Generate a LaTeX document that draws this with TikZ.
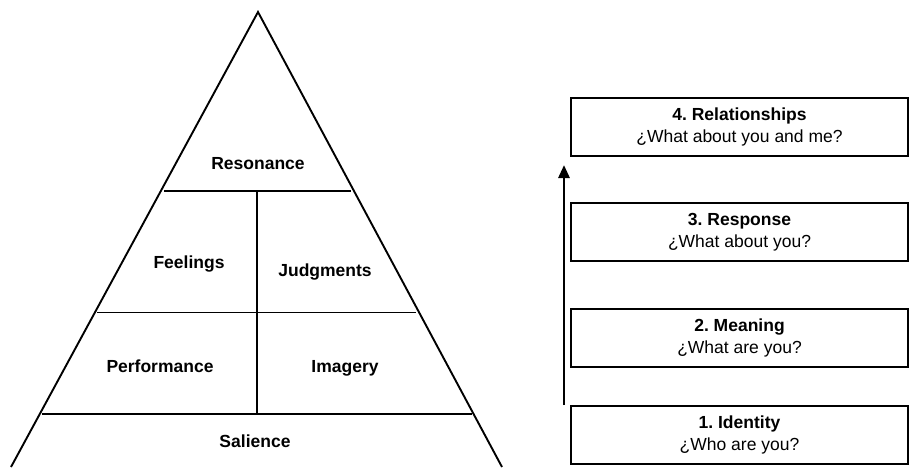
\documentclass[tikz,border=0pt]{standalone}
\usepackage{fontspec}
\setmainfont{Liberation Sans}
\usetikzlibrary{arrows.meta}
\frenchspacing
\begin{document}
\begin{tikzpicture}[x=1pt,y=-1pt,
  pline/.style={line width=1.9pt},
  plabel/.style={font=\fontsize{17.5}{20}\selectfont\bfseries, inner sep=0pt,
    text height=12.6pt, text depth=3.7pt},
  stage/.style={draw, line width=1.9pt, minimum width=337pt, minimum height=58pt,
    align=center, inner sep=0pt, font=\fontsize{17.5}{22}\selectfont},
  rise/.style={line width=2.8pt, -{Triangle[length=13pt,width=11pt]}}]
\useasboundingbox (0,0) rectangle (909,467);
% brand pyramid
\coordinate (apex) at (258,12);
\coordinate (bl) at (11,467);
\coordinate (br) at (502,467);
\draw[pline] (bl) -- (apex) -- (br);
\draw[pline] (164,191) -- (351,191);
\draw[pline] (97,312.5) -- (416,312.5);
\draw[pline] (42,414) -- (472,414);
\draw[pline] (257,191) -- (257,414);
\node[plabel] (resonance) at (258,165.5) {Resonance};
\node[plabel] (feelings) at (189,264) {Feelings};
\node[plabel] (judgments) at (325,272) {Judgments};
\node[plabel] (performance) at (160,368.5) {Performance};
\node[plabel] (imagery) at (345,368.5) {Imagery};
\node[plabel] (salience) at (255,443.5) {Salience};
% brand building stages
\node[stage] (s4) at (739.5,127) {\textbf{4. Relationships}\\¿What about you and me?};
\node[stage] (s3) at (739.5,232) {\textbf{3. Response}\\¿What about you?};
\node[stage] (s2) at (739.5,338) {\textbf{2. Meaning}\\¿What are you?};
\node[stage] (s1) at (739.5,435) {\textbf{1. Identity}\\¿Who are you?};
\coordinate (up0) at (564,405);
\coordinate (up1) at (564,165);
\draw[rise] (up0) -- (up1);
\end{tikzpicture}
\end{document}
